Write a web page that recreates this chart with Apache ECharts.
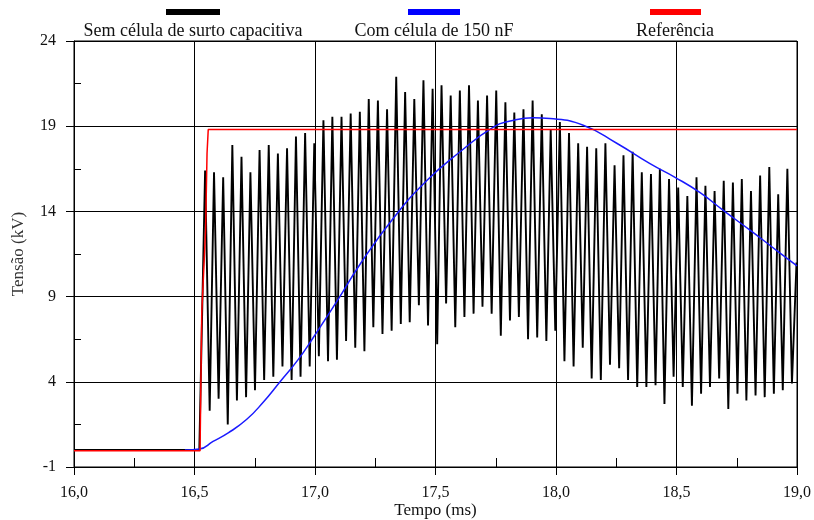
<!DOCTYPE html>
<html>
<head>
<meta charset="utf-8">
<script src="https://cdn.jsdelivr.net/npm/echarts@6/dist/echarts.min.js"></script>
<style>html,body{margin:0;padding:0;background:#fff}#c{width:814px;height:520px}</style>
</head>
<body>
<div id="c"></div>
<script>
// ---- Data ----
const seriesNames = ['Sem célula de surto capacitiva', 'Com célula de 150 nF', 'Referência'];
const xTicks = [16.0, 16.5, 17.0, 17.5, 18.0, 18.5, 19.0];
const yTicks = [-1, 4, 9, 14, 19, 24];

// Black: flat lead-in then oscillation (peak / trough per cycle)
const blackLeadT = [16.0, 16.52];
const blackLeadV = [0, 0];
const peakT = [16.544,16.581,16.619,16.657,16.695,16.732,16.770,16.808,16.846,16.884,
  16.921,16.959,16.997,17.035,17.072,17.110,17.148,17.186,17.223,17.261,
  17.299,17.337,17.374,17.412,17.450,17.488,17.525,17.563,17.601,17.639,
  17.676,17.714,17.752,17.790,17.827,17.865,17.903,17.941,17.978,18.016,
  18.054,18.092,18.129,18.167,18.205,18.243,18.280,18.318,18.356,18.394,
  18.431,18.469,18.507,18.545,18.583,18.620,18.658,18.696,18.734,18.771,
  18.809,18.847,18.885,18.922,18.960,18.998];
const peakV = [16.4,16.3,16.0,17.9,17.2,16.3,17.6,17.9,17.4,17.7,
  18.4,18.6,18.0,19.35,19.55,19.55,19.75,19.85,20.6,20.5,
  20.0,21.9,21.0,20.6,21.7,21.2,21.4,20.8,21.1,21.4,
  20.5,20.8,21.1,20.4,19.8,20.0,20.5,19.7,18.8,19.25,
  18.6,18.0,17.8,17.7,18.0,16.7,17.3,17.5,16.3,16.2,
  16.5,15.9,15.4,14.9,16.0,15.5,15.2,15.8,15.7,15.9,
  15.2,16.1,16.6,15.0,16.5,11.0];
const troughT = [16.563,16.600,16.638,16.676,16.714,16.751,16.789,16.827,16.865,16.903,
  16.940,16.978,17.016,17.054,17.091,17.129,17.167,17.205,17.242,17.280,
  17.318,17.356,17.393,17.431,17.469,17.507,17.544,17.582,17.620,17.658,
  17.695,17.733,17.771,17.809,17.846,17.884,17.922,17.960,17.997,18.035,
  18.073,18.111,18.148,18.186,18.224,18.262,18.299,18.337,18.375,18.413,
  18.450,18.488,18.526,18.564,18.602,18.639,18.677,18.715,18.753,18.790,
  18.828,18.866,18.904,18.941,18.979];
const troughV = [2.3,3.0,1.5,2.9,3.1,3.5,4.1,4.3,4.9,4.1,
  4.3,4.9,5.5,5.2,5.3,6.4,6.0,5.8,7.2,6.8,
  7.0,7.4,7.5,8.5,7.3,6.2,8.6,7.2,7.8,8.0,
  8.4,8.0,6.7,7.6,7.8,6.5,6.6,6.4,7.0,5.2,
  4.9,6.0,4.2,4.1,5.0,4.8,4.1,3.7,3.7,3.8,
  2.7,4.3,3.7,2.6,3.3,3.7,4.2,2.4,3.3,2.9,
  3.2,3.1,3.3,3.5,3.9];

// Blue: with 150 nF cell
const blueT = [16.46,16.52,16.577,16.64,16.717,16.785,16.855,16.93,16.993,17.09,17.187,17.325,17.463,17.602,17.74,17.81,17.906,17.975,18.113,18.252,18.39,18.494,18.598,18.694,18.805,18.916,19.0];
const blueV = [0.0,0.05,0.5,1.0,1.8,2.8,4.0,5.3,6.6,8.7,10.9,13.6,15.8,17.5,18.95,19.3,19.5,19.45,19.06,18.0,16.8,16.0,15.1,14.06,12.9,11.7,10.8];

// Red: reference step
const redT = [16.0,16.523,16.53,16.546,16.552,16.557,19.0];
const redV = [-0.05,-0.05,8.0,12.9,17.4,18.8,18.8];

// ---- Build series data ----
const blackData = blackLeadT.map((t,i)=>[t, blackLeadV[i]]);
for (let k = 0; k < peakT.length; k++) {
  blackData.push([peakT[k], peakV[k]]);
  if (k < troughT.length) blackData.push([troughT[k], troughV[k]]);
}
const blueData = blueT.map((t,i)=>[t, blueV[i]]);
const redData = redT.map((t,i)=>[t, redV[i]]);

const FONT = 'Liberation Serif';
const chart = echarts.init(document.getElementById('c'), null, {renderer:'canvas'});
const fmtX = v => v.toFixed(1).replace('.', ',');

chart.setOption({
  animation: false,
  backgroundColor: '#fff',
  grid: {left: 74, right: 17, top: 41, bottom: 53, show: true, borderColor: '#000', borderWidth: 1,
         containLabel: false, outerBoundsMode: 'none'},
  xAxis: [{
    type: 'value', min: xTicks[0], max: xTicks[xTicks.length-1], interval: 0.5,
    name: 'Tempo (ms)', nameLocation: 'middle', nameGap: 35, nameMoveOverlap: false,
    nameTextStyle: {fontFamily: FONT, fontSize: 17, color: '#111'},
    axisLine: {onZero: false, lineStyle: {color: '#000', width: 1}},
    axisTick: {show: true, inside: false, length: 8, lineStyle: {color: '#000'}},
    axisLabel: {fontFamily: FONT, fontSize: 16, color: '#111', margin: 18, formatter: fmtX},
    splitLine: {show: true, lineStyle: {color: '#000', width: 1}}
  }, {
    type: 'value', min: xTicks[0], max: xTicks[xTicks.length-1], interval: 0.25, position: 'bottom',
    axisLine: {show: false, onZero: false}, axisLabel: {show: false}, splitLine: {show: false},
    axisTick: {show: true, inside: true, length: 9, lineStyle: {color: '#000'}}
  }],
  yAxis: [{
    type: 'value', min: yTicks[0], max: yTicks[yTicks.length-1], interval: 5,
    name: 'Tensão (kV)', nameLocation: 'middle', nameGap: 47, nameRotate: 90, nameMoveOverlap: false,
    nameTextStyle: {fontFamily: FONT, fontSize: 17, color: '#333'},
    axisLine: {show: true, onZero: false, lineStyle: {color: '#000', width: 1}},
    axisTick: {show: true, inside: false, length: 8, lineStyle: {color: '#000'}},
    axisLabel: {fontFamily: FONT, fontSize: 16, color: '#111', margin: 18},
    splitLine: {show: true, lineStyle: {color: '#000', width: 1}}
  }, {
    type: 'value', min: yTicks[0], max: yTicks[yTicks.length-1], interval: 2.5, position: 'left',
    axisLine: {show: false, onZero: false}, axisLabel: {show: false}, splitLine: {show: false},
    axisTick: {show: true, inside: true, length: 7, lineStyle: {color: '#000'}}
  }],
  series: [
    {name: seriesNames[0], type: 'line', data: blackData, showSymbol: false, symbol: 'none',
     lineStyle: {color: '#000', width: 1.9}, z: 2},
    {name: seriesNames[1], type: 'line', data: blueData, showSymbol: false, symbol: 'none', smooth: true,
     lineStyle: {color: '#1a1aff', width: 1.5}, z: 3},
    {name: seriesNames[2], type: 'line', data: redData, showSymbol: false, symbol: 'none',
     lineStyle: {color: '#ff0000', width: 1.5}, z: 4}
  ],
  graphic: [
    {type: 'rect', left: 166, top: 9, shape: {width: 54, height: 6}, style: {fill: '#000'}},
    {type: 'rect', left: 408, top: 9, shape: {width: 52, height: 6}, style: {fill: '#0000ff'}},
    {type: 'rect', left: 650, top: 9, shape: {width: 51, height: 6}, style: {fill: '#ff0000'}},
    {type: 'text', x: 193, y: 31, style: {text: seriesNames[0], font: '18px "Liberation Serif"', fill: '#111', textAlign: 'center', textVerticalAlign: 'middle'}},
    {type: 'text', x: 434, y: 31, style: {text: seriesNames[1], font: '18px "Liberation Serif"', fill: '#111', textAlign: 'center', textVerticalAlign: 'middle'}},
    {type: 'text', x: 675, y: 31, style: {text: seriesNames[2], font: '18px "Liberation Serif"', fill: '#111', textAlign: 'center', textVerticalAlign: 'middle'}}
  ]
});
</script>
</body>
</html>
